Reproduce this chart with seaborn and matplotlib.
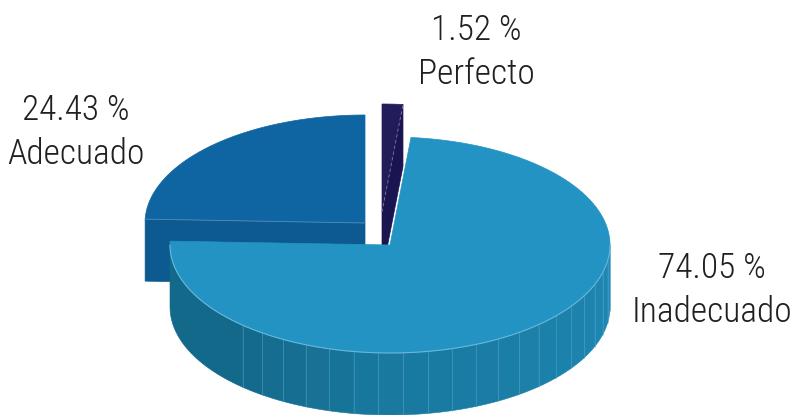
import numpy as np
import matplotlib
matplotlib.use("Agg")
import matplotlib.pyplot as plt
import seaborn as sns
from matplotlib.patches import Polygon
from matplotlib.colors import to_rgb
from matplotlib import font_manager as fm

sns.set_theme(style="white")
plt.rcParams['font.family'] = ['DejaVu Sans']

# ---- data ----
categories = ["Perfecto", "Inadecuado", "Adecuado"]      # clockwise from 12 o'clock
values = [1.52, 74.05, 24.43]
value_labels = ["1.52 %", "74.05 %", "24.43 %"]

# ---- style ----
top_colors = {"Perfecto": "#221d5a", "Inadecuado": "#2393c3", "Adecuado": "#0f65a1"}
face_colors = {"Perfecto": "#1a1450", "Inadecuado": "#136889", "Adecuado": "#0c5a90"}
side_stops = [(180, "#136889"), (230, "#146a8c"), (270, "#19799f"), (360, "#1f88b5")]
offsets = {"Perfecto": (-8, -33), "Inadecuado": (0, 0), "Adecuado": (-25, -22)}
label_pos = {"Perfecto": (476, 40), "Inadecuado": (712, 278), "Adecuado": (76, 120)}
cx, cy, rx, ry, depth = 390, 245, 220, 108, 62
draw_order = ["Adecuado", "Perfecto", "Inadecuado"]

# pick a condensed / narrow font if one is installed
prefs = ["RobotoCondensed-Light", "RobotoCondensed-Regular", "OpenSans_Condensed-Light",
         "OpenSansCondensed-Light", "NotoSans-CondensedLight", "LiberationSansNarrow-Regular",
         "NotoSans-Condensed.", "DejaVuSansCondensed.", "Roboto-Light", "Lato-Light"]
font_file = None
files = [f.fname for f in fm.fontManager.ttflist]
for p in prefs:
    hits = [f for f in files if p in f.split("/")[-1]]
    if hits:
        font_file = hits[0]
        break
fp = fm.FontProperties(fname=font_file) if font_file else fm.FontProperties(family="DejaVu Sans")

fig = plt.figure(figsize=(7.93, 4.15), dpi=100)
ax = fig.add_axes([0, 0, 1, 1])
ax.set_xlim(0, 793)
ax.set_ylim(415, 0)
ax.axis("off")

total = sum(values)
bounds = 90 - np.concatenate([[0], np.cumsum(values)]) / total * 360
wedges = {c: (bounds[i + 1], bounds[i]) for i, c in enumerate(categories)}


def pt(t, ox, oy, dz=0.0):
    r = np.radians(t)
    return cx + ox + rx * np.cos(r), cy + oy - ry * np.sin(r) + dz


def side_color(t):
    tt = t % 360
    angs = [a for a, _ in side_stops]
    cols = np.array([to_rgb(c) for _, c in side_stops])
    return tuple(np.interp(tt, angs, cols[:, k]) for k in range(3))


for cat in draw_order:
    lo, hi = wedges[cat]
    ox, oy = offsets[cat]
    apex = (cx + ox, cy + oy)
    for ang, vis in ((lo, np.cos(np.radians(lo)) > 1e-6), (hi, np.cos(np.radians(hi)) < -1e-6)):
        if vis:
            p = pt(ang, ox, oy)
            poly = [apex, p, (p[0], p[1] + depth), (apex[0], apex[1] + depth)]
            ax.add_patch(Polygon(poly, closed=True, fc=face_colors[cat], ec=face_colors[cat], lw=0.5, zorder=1))
    ts = np.linspace(lo, hi, 2000)
    vis = np.sin(np.radians(ts)) < 0
    if vis.any():
        tv = ts[vis]
        a0, a1 = tv.min(), tv.max()
        base = np.floor(a0 / 360) * 360
        edges = [a0] + [base + e for e in np.arange(228, 360, 6.5) if a0 < base + e < a1] + [a1]
        for e0, e1 in zip(edges[:-1], edges[1:]):
            tt = np.linspace(e0, e1, 30)
            top = [pt(t, ox, oy) for t in tt]
            bot = [pt(t, ox, oy, depth) for t in tt[::-1]]
            col = side_color((e0 + e1) / 2)
            ax.add_patch(Polygon(top + bot, closed=True, fc=col, ec=col, lw=0.4, zorder=1))
            if e0 != a0:
                p = pt(e0, ox, oy)
                ax.plot([p[0], p[0]], [p[1], p[1] + depth], color="#5aa9cf", lw=0.5, alpha=0.6, zorder=1.5)
    tt = np.linspace(lo, hi, 400)
    poly = [apex] + [pt(t, ox, oy) for t in tt]
    ax.add_patch(Polygon(poly, closed=True, fc=top_colors[cat], ec=top_colors[cat], lw=0.5, zorder=2))
    if vis.any():
        rim = np.array([pt(t, ox, oy) for t in ts[vis]])
        ax.plot(rim[:, 0], rim[:, 1], color="#6ab6da", lw=0.8, zorder=2.5)
    if cat == "Adecuado":
        p = pt(hi, ox, oy)
        ax.plot([p[0], apex[0]], [p[1], apex[1]], color="#4f8fbf", lw=0.6, zorder=2.5)
    if cat == "Perfecto":
        p = pt(lo, ox, oy)
        ax.plot([apex[0], p[0]], [apex[1], p[1]], color="#7d7aa8", lw=0.6, ls=(0, (4, 3)), zorder=2.5)

# labels: size chosen so that "Inadecuado" spans about 160 px, capped at 28 pt
fs = 28
probe = ax.text(0, 0, "Inadecuado", fontproperties=fp, fontsize=fs)
fig.canvas.draw()
w = probe.get_window_extent().width
probe.remove()
fs = min(fs, fs * 160.0 / w)

for cat, lab in zip(categories, value_labels):
    x, y = label_pos[cat]
    ax.text(x, y, lab, ha="center", va="baseline", fontproperties=fp, fontsize=fs, color="#231f20", zorder=5)
    ax.text(x, y + 44, cat, ha="center", va="baseline", fontproperties=fp, fontsize=fs, color="#231f20", zorder=5)

fig.savefig("out.png", dpi=100)
